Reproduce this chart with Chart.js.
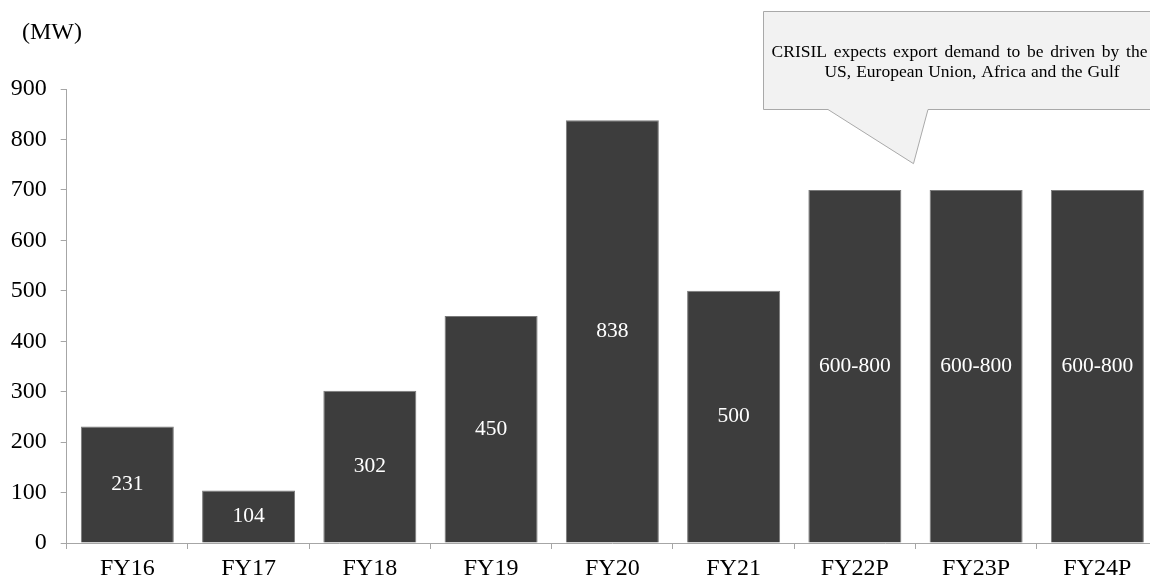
<!DOCTYPE html>
<html>
<head>
<meta charset="utf-8">
<script src="https://cdn.jsdelivr.net/npm/chart.js@4/dist/chart.umd.min.js"></script>
<style>
  html, body { margin: 0; padding: 0; background: #ffffff; overflow: hidden; }
  #wrap { position: absolute; left: 0; top: 0; width: 1158px; height: 580px; }
</style>
</head>
<body>
<div id="wrap"><canvas id="c" width="1158" height="580"></canvas></div>
<script>
// ---- data ----
const categories = ["FY16", "FY17", "FY18", "FY19", "FY20", "FY21", "FY22P", "FY23P", "FY24P"];
const values = [231, 104, 302, 450, 838, 500, 700, 700, 700];
const barLabels = ["231", "104", "302", "450", "838", "500", "600-800", "600-800", "600-800"];
const yTicks = [0, 100, 200, 300, 400, 500, 600, 700, 800, 900];
const unitLabel = "(MW)";
const calloutLines = ["CRISIL expects export demand to be driven by the", "US, European Union, Africa and the Gulf"];
const calloutPointValue = 752;   // value level the callout pointer reaches
const calloutPointIndex = 6;     // pointer reaches right edge of this category

const FONT = "'Liberation Serif', 'Times New Roman', serif";

const overlayPlugin = {
  id: 'overlay',
  afterDatasetsDraw(chart) {
    const ctx = chart.ctx;
    const meta = chart.getDatasetMeta(0);
    ctx.save();
    ctx.fillStyle = '#ffffff';
    ctx.font = "21.5px " + FONT;
    ctx.textAlign = 'center';
    ctx.textBaseline = 'middle';
    meta.data.forEach((bar, i) => {
      const midY = (bar.y + bar.base) / 2;
      ctx.fillText(barLabels[i], bar.x, midY);
    });
    ctx.restore();
  },
  afterDraw(chart) {
    const ctx = chart.ctx;
    const xs = chart.scales.x, ys = chart.scales.y;
    ctx.save();
    // unit label
    ctx.fillStyle = '#000000';
    ctx.font = "24px " + FONT;
    ctx.textAlign = 'left';
    ctx.textBaseline = 'middle';
    ctx.fillText(unitLabel, 22, 33);

    // callout
    const catW = (xs.right - xs.left) / categories.length;
    const tipX = xs.left + catW * (calloutPointIndex + 1) - 2;
    const tipY = ys.getPixelForValue(calloutPointValue);
    const bx0 = 763.5, by0 = 11.5, bx1 = 1162, by1 = 109.5;
    ctx.beginPath();
    ctx.moveTo(bx0, by0);
    ctx.lineTo(bx1, by0);
    ctx.lineTo(bx1, by1);
    ctx.lineTo(928, by1);
    ctx.lineTo(tipX, tipY);
    ctx.lineTo(828, by1);
    ctx.lineTo(bx0, by1);
    ctx.closePath();
    ctx.fillStyle = '#f2f2f2';
    ctx.fill();
    ctx.strokeStyle = '#a9a9a9';
    ctx.lineWidth = 1;
    ctx.stroke();

    ctx.fillStyle = '#000000';
    ctx.font = "17.5px " + FONT;
    ctx.textAlign = 'center';
    ctx.textBaseline = 'middle';
    if ('wordSpacing' in ctx) ctx.wordSpacing = '2.4px';
    ctx.fillText(calloutLines[0], 959.5, 52);
    if ('wordSpacing' in ctx) ctx.wordSpacing = '0.6px';
    ctx.fillText(calloutLines[1], 972, 72);
    ctx.restore();
  }
};

new Chart(document.getElementById('c'), {
  type: 'bar',
  data: {
    labels: categories,
    datasets: [{
      data: values,
      backgroundColor: '#3d3d3d',
      borderColor: '#7a7a7a',
      borderWidth: 1,
      categoryPercentage: 1.0,
      barPercentage: 0.767
    }]
  },
  options: {
    responsive: false,
    animation: false,
    devicePixelRatio: 1,
    layout: { padding: { top: 89, left: 0, right: 0, bottom: 0 } },
    plugins: {
      legend: { display: false },
      tooltip: { enabled: false }
    },
    scales: {
      x: {
        grid: { display: true, drawOnChartArea: false, drawTicks: true, tickLength: 6, color: '#a6a6a6', offset: true },
        border: { display: true, color: '#a6a6a6', width: 1 },
        ticks: { color: '#000000', font: { family: FONT, size: 24 }, padding: 5, maxRotation: 0, autoSkip: false },
        afterFit: s => { s.height = 37; }
      },
      y: {
        min: 0,
        max: 900,
        afterBuildTicks: s => { s.ticks = yTicks.map(v => ({ value: v })); },
        grid: { display: true, drawOnChartArea: false, drawTicks: true, tickLength: 6, color: '#a6a6a6' },
        border: { display: true, color: '#a6a6a6', width: 1 },
        ticks: { color: '#000000', font: { family: FONT, size: 24 }, padding: 14 },
        afterFit: s => { s.width = 66.7; }
      }
    }
  },
  plugins: [overlayPlugin]
});
</script>
</body>
</html>
